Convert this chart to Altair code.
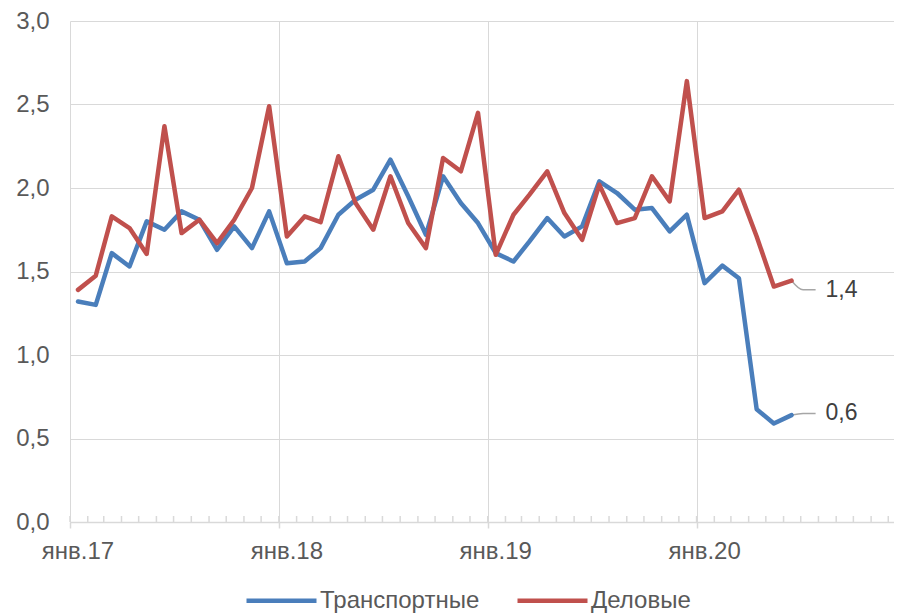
import altair as alt
import pandas as pd

months = pd.date_range("2017-01-01", periods=42, freq="MS") + pd.Timedelta(days=14)

transport = [1.32, 1.30, 1.61, 1.53, 1.80, 1.75, 1.86, 1.81, 1.63, 1.77, 1.64, 1.86,
             1.55, 1.56, 1.64, 1.84, 1.93, 1.99, 2.17, 1.95, 1.72, 2.07, 1.91, 1.79,
             1.61, 1.56, 1.68, 1.82, 1.71, 1.77, 2.04, 1.97, 1.87, 1.88, 1.74, 1.84,
             1.43, 1.535, 1.46, 0.675, 0.59, 0.64]
business = [1.39, 1.475, 1.83, 1.76, 1.605, 2.37, 1.73, 1.81, 1.67, 1.81, 2.00, 2.49,
            1.71, 1.83, 1.795, 2.19, 1.91, 1.75, 2.07, 1.79, 1.64, 2.18, 2.10, 2.45,
            1.60, 1.84, 1.96, 2.10, 1.85, 1.69, 2.02, 1.79, 1.82, 2.07, 1.92, 2.64,
            1.82, 1.86, 1.99, 1.71, 1.41, 1.445]

series_names = ["Транспортные", "Деловые"]
series_colors = ["#4A7EBB", "#C0504D"]
label_pos = [0.65, 1.39]
year_ticks = ["2017-01-01", "2018-01-01", "2019-01-01", "2020-01-01"]

rows = []
for name, vals in zip(series_names, [transport, business]):
    for d, v in zip(months, vals):
        rows.append({"date": d, "value": v, "series": name})
df = pd.DataFrame(rows)

last_date = months[-1]
ann_rows, lead_rows = [], []
for name, vals, lp in zip(series_names, [transport, business], label_pos):
    ann_rows.append({"date": last_date, "pos": lp,
                     "text": f"{vals[-1]:.1f}".replace(".", ","), "series": name})
    lead_rows += [
        {"date": last_date, "pos": vals[-1], "series": name, "o": 0},
        {"date": last_date + pd.Timedelta(days=20), "pos": lp, "series": name, "o": 1},
        {"date": last_date + pd.Timedelta(days=42), "pos": lp, "series": name, "o": 2},
    ]
ann_df = pd.DataFrame(ann_rows)
lead_df = pd.DataFrame(lead_rows)

tick_df = pd.DataFrame({"date": pd.date_range("2017-01-01", "2020-12-01", freq="MS")})

W, H = 824, 501
FONT = "Liberation Sans"
TXT = "#595959"
GRID = "#D9D9D9"

xscale = alt.Scale(domain=["2017-01-01", "2020-12-11"])
yscale = alt.Scale(domain=[0, 3])

xaxis = alt.Axis(values=year_ticks, labelExpr="'янв.' + timeFormat(datum.value, '%y')",
                 grid=True, gridColor=GRID, gridWidth=1, domainColor=GRID, domainWidth=1.5,
                 tickColor=GRID, tickSize=6, tickWidth=1.5, labelOffset=7.5, labelPadding=11,
                 labelFlush=False, labelFontSize=24, labelColor=TXT, labelFont=FONT, title=None)
yaxis = alt.Axis(values=[0, 0.5, 1, 1.5, 2, 2.5, 3],
                 labelExpr="replace(format(datum.value, '.1f'), '.', ',')",
                 grid=True, gridColor=GRID, gridWidth=1, domain=False, ticks=False, tickSize=0,
                 labelPadding=21, labelFontSize=24, labelColor=TXT, labelFont=FONT, title=None)

color = alt.Color("series:N", scale=alt.Scale(domain=series_names, range=series_colors),
                  legend=alt.Legend(orient="none", legendX=174, legendY=542, direction="horizontal",
                                    title=None, symbolType="stroke", symbolSize=4900,
                                    symbolStrokeWidth=4.5, labelFontSize=24, labelFont=FONT,
                                    labelColor=TXT, labelOffset=1, columnPadding=28))

minor = alt.Chart(tick_df).mark_rule(color=GRID, strokeWidth=1.5).encode(
    x=alt.X("date:T", scale=xscale, axis=xaxis),
    y=alt.value(H - 6), y2=alt.value(H))

leaders = alt.Chart(lead_df).mark_line(color="#A6A6A6", strokeWidth=1.5,
                                       interpolate="monotone").encode(
    x=alt.X("date:T", scale=xscale, axis=xaxis),
    y=alt.Y("pos:Q", scale=yscale, axis=yaxis),
    detail="series:N", order="o:Q")

lines = alt.Chart(df).mark_line(strokeWidth=4.5, strokeCap="round", strokeJoin="round").encode(
    x=alt.X("date:T", scale=xscale, axis=xaxis),
    y=alt.Y("value:Q", scale=yscale, axis=yaxis),
    color=color)

labels = alt.Chart(ann_df).mark_text(align="left", baseline="middle", dx=34, fontSize=23,
                                     font=FONT, color="#404040").encode(
    x=alt.X("date:T", scale=xscale, axis=xaxis),
    y=alt.Y("pos:Q", scale=yscale, axis=yaxis),
    text="text:N")

chart = alt.layer(minor, leaders, lines, labels).properties(
    width=W, height=H,
    autosize=alt.AutoSizeParams(type="none"),
    padding={"left": 62, "top": 13, "right": 0, "bottom": 92},
).configure_view(stroke=None)

chart.save("out.html", embed_options={"renderer": "svg", "actions": False})
